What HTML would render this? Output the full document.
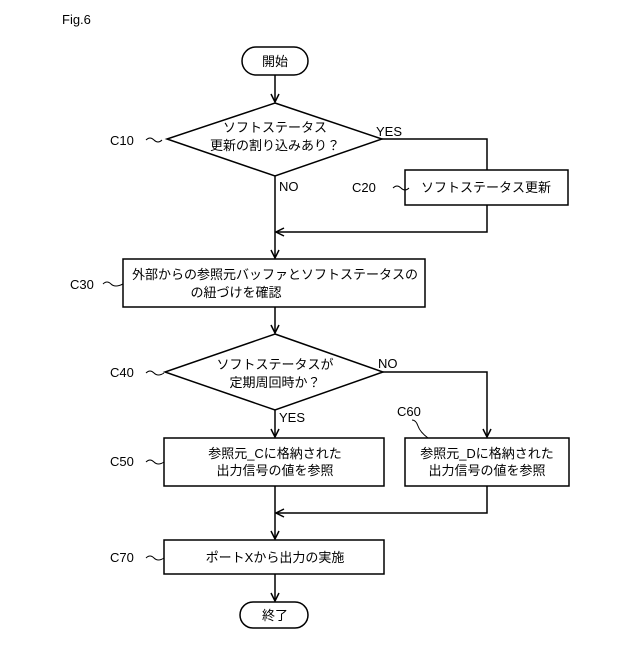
<!DOCTYPE html>
<html><head><meta charset="utf-8"><style>
body{margin:0;background:#fff}
svg text{font-family:"Liberation Sans","Noto Sans CJK JP",sans-serif;font-size:13px;fill:#000}
</style></head><body>
<svg width="640" height="640" viewBox="0 0 640 640" xmlns="http://www.w3.org/2000/svg">
<defs><marker id="a" markerWidth="10" markerHeight="10" refX="9" refY="5" orient="auto" markerUnits="userSpaceOnUse"><path d="M1,1 L9,5 L1,9" fill="none" stroke="#000" stroke-width="1.5"/></marker></defs>
<g stroke="#000" stroke-width="1.5" fill="none">
<rect x="242" y="47" width="66" height="28" rx="14"/>
<line x1="275" y1="75" x2="275" y2="102" marker-end="url(#a)"/>
<polygon points="275,103 382,139 275,176 167,139"/>
<polyline points="382,139 487,139 487,170"/>
<rect x="405" y="170" width="163" height="35"/>
<polyline points="487,205 487,232 276,232" marker-end="url(#a)"/>
<line x1="275" y1="176" x2="275" y2="258" marker-end="url(#a)"/>
<rect x="123" y="259" width="302" height="48"/>
<line x1="275" y1="307" x2="275" y2="333" marker-end="url(#a)"/>
<polygon points="275,334 383,372 275,410 165,372"/>
<polyline points="383,372 487,372 487,437" marker-end="url(#a)"/>
<line x1="275" y1="410" x2="275" y2="437" marker-end="url(#a)"/>
<rect x="164" y="438" width="220" height="48"/>
<rect x="405" y="438" width="164" height="48"/>
<polyline points="487,486 487,513 276,513" marker-end="url(#a)"/>
<line x1="275" y1="486" x2="275" y2="539" marker-end="url(#a)"/>
<rect x="164" y="540" width="220" height="34"/>
<line x1="275" y1="574" x2="275" y2="601" marker-end="url(#a)"/>
<rect x="240" y="602" width="68" height="26" rx="13"/>
<g stroke-width="1">
<path d="M146,140 q4,-4 8,0 t8,0"/>
<path d="M393,188 q4,-4 8,0 t8,0"/>
<path d="M103,284 q4,-4 8,0 t12,0"/>
<path d="M146,373 q4,-4 8,0 t10,0"/>
<path d="M146,462 q4,-4 8,0 t10,0"/>
<path d="M146,558 q4,-4 8,0 t10,0"/>
<path d="M412,420 q4,0 6,6 t10,12"/>
</g>
</g>
<text x="62" y="24" font-size="14">Fig.6</text>
<text x="275" y="66" text-anchor="middle">開始</text>
<text x="275" y="132" text-anchor="middle">ソフトステータス</text>
<text x="275" y="150" text-anchor="middle">更新の割り込みあり？</text>
<text x="376" y="136">YES</text>
<text x="279" y="191">NO</text>
<text x="110" y="145">C10</text>
<text x="352" y="192">C20</text>
<text x="486" y="192" text-anchor="middle">ソフトステータス更新</text>
<text x="70" y="289">C30</text>
<text x="275" y="279" text-anchor="middle">外部からの参照元バッファとソフトステータスの</text>
<text x="236" y="297" text-anchor="middle">の紐づけを確認</text>
<text x="275" y="369" text-anchor="middle">ソフトステータスが</text>
<text x="275" y="387" text-anchor="middle">定期周回時か？</text>
<text x="378" y="368">NO</text>
<text x="279" y="422">YES</text>
<text x="110" y="377">C40</text>
<text x="397" y="416">C60</text>
<text x="110" y="466">C50</text>
<text x="275" y="458" text-anchor="middle">参照元_Cに格納された</text>
<text x="275" y="475" text-anchor="middle">出力信号の値を参照</text>
<text x="487" y="458" text-anchor="middle">参照元_Dに格納された</text>
<text x="487" y="475" text-anchor="middle">出力信号の値を参照</text>
<text x="110" y="562">C70</text>
<text x="275" y="562" text-anchor="middle">ポートXから出力の実施</text>
<text x="275" y="620" text-anchor="middle">終了</text>
</svg>
</body></html>
